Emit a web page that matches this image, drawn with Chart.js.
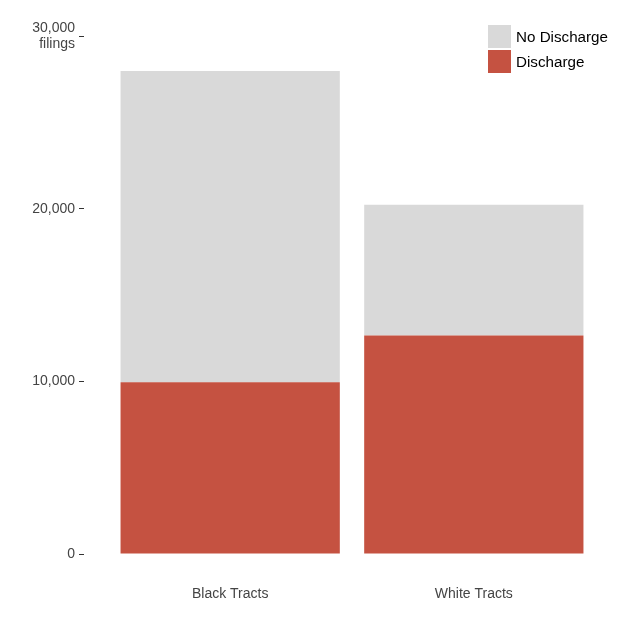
<!DOCTYPE html>
<html>
<head>
<meta charset="utf-8">
<script src="https://cdn.jsdelivr.net/npm/chart.js@4.4.0/dist/chart.umd.min.js"></script>
<style>
  html, body { margin: 0; padding: 0; background: #fff; }
  #wrap { position: relative; width: 630px; height: 630px; }
  #leyenda { position: absolute; left: 488px; top: 24px; font-family: "Liberation Sans", Arial, sans-serif; font-size: 15.2px; color: #000; }
  .item { display: flex; align-items: center; height: 25px; }
  .caja { width: 23px; height: 23px; margin-right: 5px; }
</style>
</head>
<body>
<div id="wrap">
  <canvas id="grafica" width="630" height="630"></canvas>
  <div id="leyenda"></div>
</div>
<script>
// datos
const categorias = ['Black Tracts', 'White Tracts'];
const descarga = [9940, 12660];        // Discharge
const sinDescarga = [18030, 7560];     // No Discharge
const ticksY = [0, 10000, 20000, 30000];

const ROJO = '#c55241';
const GRIS = '#d9d9d9';

const puntos = vals => vals.map((v, i) => ({ x: i + 1, y: v }));

const datasets = [
    { label: 'Discharge', data: puntos(descarga), backgroundColor: ROJO },
    { label: 'No Discharge', data: puntos(sinDescarga), backgroundColor: GRIS }
];

// leyenda HTML (orden invertido como en la figura)
const leyenda = document.getElementById('leyenda');
[...datasets].reverse().forEach(ds => {
    const fila = document.createElement('div');
    fila.className = 'item';
    const caja = document.createElement('div');
    caja.className = 'caja';
    caja.style.background = ds.backgroundColor;
    const txt = document.createElement('span');
    txt.textContent = ds.label;
    fila.appendChild(caja);
    fila.appendChild(txt);
    leyenda.appendChild(fila);
});

const familia = '"Liberation Sans", Arial, sans-serif';

new Chart(document.getElementById('grafica').getContext('2d'), {
    type: 'bar',
    data: { datasets: datasets },
    options: {
        responsive: false,
        animation: false,
        layout: { padding: { top: 36, right: 10, bottom: 24, left: 0 } },
        plugins: { legend: { display: false }, tooltip: { enabled: false } },
        datasets: { bar: { categoryPercentage: 1, barPercentage: 0.9 } },
        scales: {
            x: {
                type: 'linear',
                stacked: true,
                offset: false,
                min: 0.4,
                max: 2.6,
                afterBuildTicks: s => { s.ticks = categorias.map((c, i) => ({ value: i + 1 })); },
                afterFit: s => { s.height = 52; },
                grid: { display: false, drawTicks: false },
                border: { display: false },
                ticks: {
                    padding: 32,
                    maxRotation: 0,
                    color: '#444',
                    font: { family: familia, size: 14 },
                    callback: v => categorias[v - 1]
                }
            },
            y: {
                stacked: true,
                min: 0,
                max: 30000,
                afterBuildTicks: s => { s.ticks = ticksY.map(v => ({ value: v })); },
                afterFit: s => { s.width = 84; },
                grid: { drawOnChartArea: false, drawTicks: true, tickLength: 5, color: '#333' },
                border: { display: false },
                ticks: {
                    padding: 4,
                    color: '#444',
                    font: { family: familia, size: 14, lineHeight: 1.1 },
                    callback: v => v === 30000 ? ['30,000', 'filings'] : v.toLocaleString('en-US')
                }
            }
        }
    }
});
</script>
</body>
</html>
